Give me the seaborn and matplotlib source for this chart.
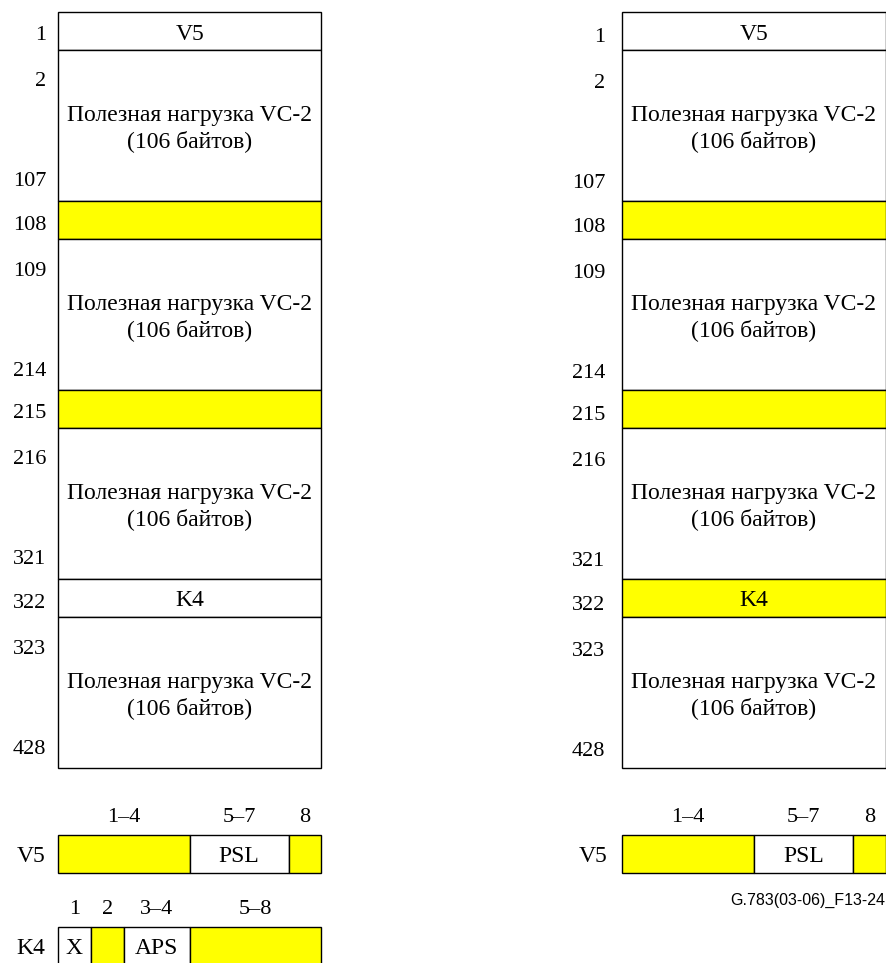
import seaborn as sns
import matplotlib.pyplot as plt
from matplotlib.patches import Rectangle

# frame structure: (first byte, last byte, text, highlighted) for the two variants
frame_left = [(1, 1, 'V5', False), (2, 107, 'payload', False), (108, 108, '', True),
              (109, 214, 'payload', False), (215, 215, '', True), (216, 321, 'payload', False),
              (322, 322, 'K4', False), (323, 428, 'payload', False)]
frame_right = [(1, 1, 'V5', False), (2, 107, 'payload', False), (108, 108, '', True),
               (109, 214, 'payload', False), (215, 215, '', True), (216, 321, 'payload', False),
               (322, 322, 'K4', True), (323, 428, 'payload', False)]
payload_text = 'Полезная нагрузка VC-2\n(106 байтов)'

# bit fields: (header, number of bits, text, highlighted)
v5_bits = [('1–4', 4, '', True), ('5–7', 3, 'PSL', False), ('8', 1, '', True)]
k4_bits = [('1', 1, 'X', False), ('2', 1, '', True), ('3–4', 2, 'APS', False), ('5–8', 4, '', True)]
footer = 'G.783(03-06)_F13-24'

YELLOW = '#FFFF00'
SERIF = ['Liberation Serif', 'DejaVu Serif']
FS_NUM = 16
FS_TXT = 17

sns.set_theme(style='white')
plt.rcParams['font.family'] = SERIF
plt.rcParams['text.color'] = 'black'

fig = plt.figure(figsize=(8.87, 9.63), dpi=100)
ax = fig.add_axes([0, 0, 1, 1])
ax.set_xlim(0, 887)
ax.set_ylim(963, 0)
ax.axis('off')

BYTE_H = 38
PAY_H = 151


def draw_frame(rows, x0, x1, lab_x, dy):
    y = 12
    for first, last, txt, hi in rows:
        h = BYTE_H if first == last else PAY_H
        ax.add_patch(Rectangle((x0, y), x1 - x0, h, facecolor=YELLOW if hi else 'white',
                               edgecolor='black', lw=1.0))
        cx = (x0 + x1) / 2
        if txt == 'payload':
            ax.text(cx, y + h / 2 + 3, payload_text, ha='center', va='center', fontsize=FS_TXT,
                    linespacing=1.2)
            ax.text(lab_x, y + 32 + dy, str(first), ha='right', va='center', fontsize=FS_NUM)
            ax.text(lab_x, y + h - 19 + dy, str(last), ha='right', va='center', fontsize=FS_NUM)
        else:
            if txt:
                ax.text(cx, y + h / 2 + 3, txt, ha='center', va='center', fontsize=FS_TXT)
            ax.text(lab_x, y + h / 2 + 5 + dy, str(first), ha='right', va='center', fontsize=FS_NUM)
        y += h


def draw_bits(bits, name, x0, x1, y0, lab_x):
    w = (x1 - x0) / 8
    x = x0
    for head, n, txt, hi in bits:
        ax.add_patch(Rectangle((x, y0), n * w, BYTE_H, facecolor=YELLOW if hi else 'white',
                               edgecolor='black', lw=1.0))
        ax.text(x + n * w / 2, y0 - 18, head, ha='center', va='center', fontsize=FS_NUM)
        if txt:
            ax.text(x + n * w / 2, y0 + BYTE_H / 2 + 3, txt, ha='center', va='center', fontsize=FS_TXT)
        x += n * w
    ax.text(lab_x, y0 + BYTE_H / 2 + 3, name, ha='right', va='center', fontsize=FS_TXT)


draw_frame(frame_left, 58, 321.5, 46, 0)
draw_frame(frame_right, 622, 886, 605, 2)

draw_bits(v5_bits, 'V5', 58, 321.5, 835, 45)
draw_bits(k4_bits, 'K4', 58, 321.5, 927, 45)
draw_bits(v5_bits, 'V5', 622, 886, 835, 607)

ax.text(885, 900, footer, ha='right', va='center', fontsize=11.5,
        family=['Liberation Sans', 'DejaVu Sans'])

fig.savefig('out.png', dpi=100)
